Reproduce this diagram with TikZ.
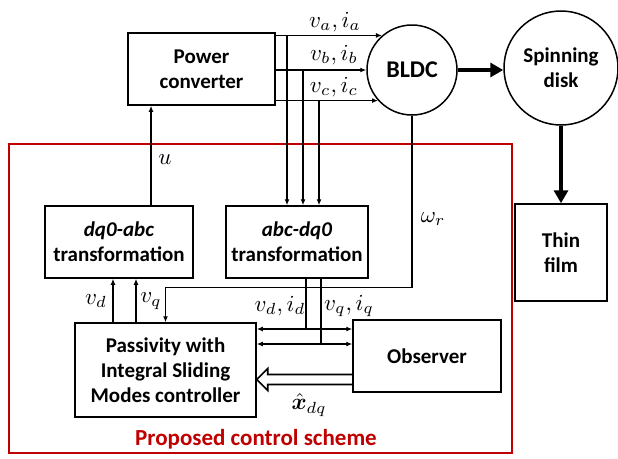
\documentclass[tikz,border=0pt]{standalone}
\usepackage{amsmath,bm,graphicx}
\usepackage{fontspec}
\setmainfont{Carlito}
\usetikzlibrary{arrows.meta,positioning,calc}
\definecolor{schemered}{RGB}{192,0,0}
\newcommand{\mlab}[1]{\scalebox{2.3}{$#1$}}

\tikzset{
  blk/.style={draw,line width=1.5pt,align=center,inner sep=0pt,
    font=\bfseries\fontsize{21}{25}\selectfont},
  circ/.style={blk,circle},
  wire/.style={line width=1.4pt},
  fat/.style={line width=3.6pt,-{Triangle[length=13pt,width=14pt]}},
  lbl/.style={inner sep=0.3pt}
}

\begin{document}
\begin{tikzpicture}[x=1pt,y=-1pt,>={Latex[length=6pt,width=5pt]}]
 \useasboundingbox (0,0) rectangle (618,458);
 \draw[schemered,line width=1.6pt] (9,144) rectangle (512,453);
 \node[font=\bfseries\fontsize{23}{26}\selectfont,text=schemered] (title) at (256,439) {Proposed control scheme};

 \node[blk,minimum width=147pt,minimum height=72pt] (pc) at (201.5,69) {Power\\converter};
 \node[circ,minimum size=90pt,font=\bfseries\fontsize{24}{28}\selectfont] (bldc) at (412,70) {BLDC};
 \node[circ,minimum size=114pt] (disk) at (561,68) {Spinning\\disk};
 \node[blk,minimum width=92pt,minimum height=97pt] (film) at (561,252.5) {Thin\\film};
 \node[blk,minimum width=148pt,minimum height=72pt] (dqabc) at (119,242) {\textit{dq0-abc}\\transformation};
 \node[blk,minimum width=142pt,minimum height=72pt] (abcdq) at (297,242) {\textit{abc-dq0}\\transformation};
 \node[blk,minimum width=181pt,minimum height=94pt] (pism) at (165.5,370) {Passivity with\\Integral Sliding\\Modes controller};
 \node[blk,minimum width=148pt,minimum height=72pt] (obs) at (427,356) {Observer};

 % three phases
 \foreach \ang/\tx/\ph in {131/287/a,180/303/b,222/319/c} {
   \draw[wire,->] (pc.east |- bldc.\ang) -- (bldc.\ang);
   \coordinate (tap\ph) at (\tx,0);
   \draw[wire,->] (tap\ph |- bldc.\ang) -- (abcdq.north -| tap\ph);
 }
 \node[lbl] (la) at (335,22) {\mlab{v_a,i_a}};
 \node[lbl] (lb) at (334,55) {\mlab{v_b,i_b}};
 \node[lbl] (lc) at (334,87) {\mlab{v_c,i_c}};

 \draw[fat] (bldc.east) -- (bldc.east -| disk.west);
 \draw[fat] (disk.south) -- (film.north);

 % control signals
 \coordinate (ux) at (151,0);
 \draw[wire,->] (dqabc.north -| ux) -- (pc.south -| ux);
 \node[lbl] (lu) at (165,160) {\mlab{u}};

 \draw[wire,->] (bldc.south) |- ($(pism.north)+(0,-35)$) -- (pism.north);
 \node[lbl] (lw) at (433,219) {\mlab{\omega_r}};

 \coordinate (vdx) at (113,0);
 \coordinate (vqx) at (136,0);
 \draw[wire,->] (pism.north -| vdx) -- (dqabc.south -| vdx);
 \draw[wire,->] (pism.north -| vqx) -- (dqabc.south -| vqx);
 \node[lbl] (lvd) at (96,301) {\mlab{v_d}};
 \node[lbl] (lvq) at (151,301) {\mlab{v_q}};

 \coordinate (idq1) at (306,329);
 \coordinate (idq2) at (321,344);
 \draw[wire] (abcdq.south -| idq1) -- (idq1);
 \draw[wire] (abcdq.south -| idq2) -- (idq2);
 \draw[wire,<->] (pism.east |- idq1) -- (obs.west |- idq1);
 \draw[wire,<->] (pism.east |- idq2) -- (obs.west |- idq2);
 \node[lbl] (lid) at (280,306) {\mlab{v_d,i_d}};
 \node[lbl] (liq) at (349,306) {\mlab{v_q,i_q}};

 % hollow estimate arrow
 \coordinate (xh) at (0,379.5);
 \draw[line width=1.6pt,line join=miter]
   ($(obs.west |- xh)+(0,-5)$) -- ($(pism.east |- xh)+(11,-5)$) -- ++(0,-6)
   -- (pism.east |- xh) -- ($(pism.east |- xh)+(11,11)$) -- ++(0,-6)
   -- ($(obs.west |- xh)+(0,5)$);
 \node[lbl] (lx) at (309,405) {\mlab{\hat{\bm{x}}_{dq}}};
\end{tikzpicture}
\end{document}
